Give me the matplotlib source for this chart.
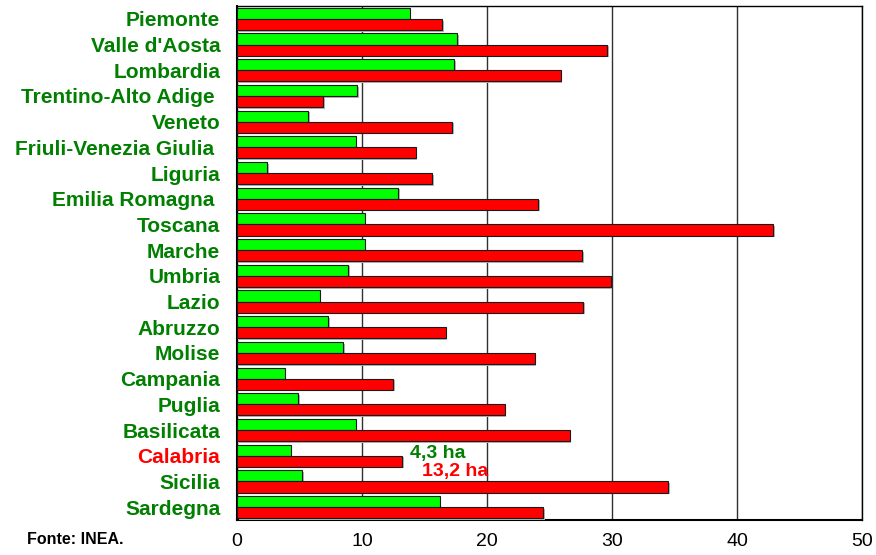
import matplotlib.pyplot as plt
import matplotlib.patheffects as pe
import numpy as np

regioni = ["Piemonte", "Valle d'Aosta", "Lombardia", "Trentino-Alto Adige ",
           "Veneto", "Friuli-Venezia Giulia ", "Liguria", "Emilia Romagna ",
           "Toscana", "Marche", "Umbria", "Lazio", "Abruzzo", "Molise",
           "Campania", "Puglia", "Basilicata", "Calabria", "Sicilia", "Sardegna"]

verde = [13.8, 17.6, 17.35, 9.6, 5.7, 9.5, 2.4, 12.9, 10.2, 10.2,
         8.9, 6.6, 7.3, 8.5, 3.8, 4.9, 9.5, 4.3, 5.2, 16.2]

rosso = [16.4, 29.6, 25.9, 6.9, 17.2, 14.3, 15.6, 24.1, 42.9, 27.6,
         29.9, 27.7, 16.7, 23.8, 12.5, 21.4, 26.6, 13.2, 34.5, 24.5]

xticks = [0, 10, 20, 30, 40, 50]

plt.rcParams['font.family'] = ['Liberation Sans', 'DejaVu Sans']

fig = plt.figure(figsize=(8.76, 5.55), dpi=100)
ax = fig.add_axes([237 / 876, 1 - 520 / 555, 625 / 876, 514 / 555])

y = np.arange(len(regioni))
h = 0.43
ombra = [pe.SimplePatchShadow(offset=(1.2, -1.2), shadow_rgbFace='#b4b4b4',
                              alpha=1.0), pe.Normal()]
ax.barh(y - h / 2, verde, height=h, color='#00ff00', edgecolor='#1a1a1a',
        linewidth=0.8, zorder=3, path_effects=ombra)
ax.barh(y + h / 2, rosso, height=h, color='#ff0000', edgecolor='#1a1a1a',
        linewidth=0.8, zorder=3, path_effects=ombra)

ax.set_xlim(0, 50)
ax.set_ylim(len(regioni) - 0.5, -0.5)
ax.set_xticks(xticks)
ax.set_xticklabels([str(t) for t in xticks], fontsize=14)
ax.set_yticks(y)
ax.set_yticklabels(regioni, fontsize=15, fontweight='bold', color='#007f00')
ax.get_yticklabels()[17].set_color('#ff0000')
ax.tick_params(axis='y', length=0, pad=12)
ax.tick_params(axis='x', length=0, pad=9)

ax.grid(axis='x', color='#303030', linewidth=1.0, zorder=1)
for s in ax.spines.values():
    s.set_color('black')
    s.set_linewidth(1.0)
ax.spines['left'].set_linewidth(1.5)
ax.spines['bottom'].set_linewidth(1.5)

ax.text(13.8, 16.93, "4,3 ha", color='#007f00', fontsize=14,
        fontweight='bold', va='center', ha='left', zorder=4)
ax.text(14.8, 17.63, "13,2 ha", color='#ff0000', fontsize=14,
        fontweight='bold', va='center', ha='left', zorder=4)

fig.text(27 / 876, 1 - 540 / 555, "Fonte: INEA.", fontsize=11.5,
         fontweight='bold', va='center', ha='left')

fig.savefig('out.png', dpi=100, facecolor='white')
